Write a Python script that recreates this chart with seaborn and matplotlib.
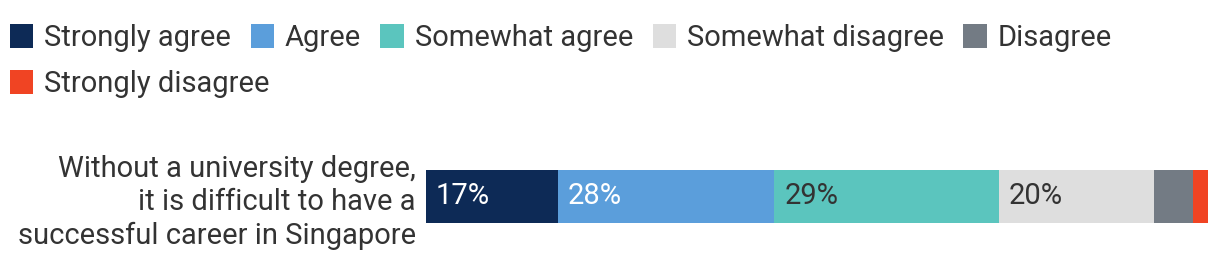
import matplotlib
matplotlib.use("Agg")
import matplotlib.pyplot as plt
import seaborn as sns
import numpy as np
from matplotlib.patches import Patch
from matplotlib.transforms import offset_copy

# ---- data ----
categories = ["Strongly agree", "Agree", "Somewhat agree",
              "Somewhat disagree", "Disagree", "Strongly disagree"]
values = [17, 28, 29, 20, 5, 2]
value_labels = ["17%", "28%", "29%", "20%", "", ""]
colors = ["#0d2a56", "#5b9edb", "#5bc5be", "#dedede", "#737b84", "#f04423"]
label_colors = ["white", "white", "#333333", "#333333", "#333333", "#333333"]
statement = "Without a university degree,\nit is difficult to have a\nsuccessful career in Singapore"

sns.set_theme(style="white")
plt.rcParams["font.family"] = ["Roboto", "DejaVu Sans"]
TXT = "#333333"
FS = 21
LFS = 21

W, H = 1220, 266
fig = plt.figure(figsize=(W / 100, H / 100), dpi=100)
fig.patch.set_facecolor("white")
ax = fig.add_axes([426 / W, (H - 223) / H, (1208 - 426) / W, 53 / H])

cum = np.cumsum(values)
for i in reversed(range(len(values))):
    sns.barplot(x=[cum[i]], y=[statement], color=colors[i], width=1.0,
                orient="h", saturation=1, linewidth=0, ax=ax)
ax.set_xlim(0, cum[-1])
ax.set_ylim(0.5, -0.5)

for s in ax.spines.values():
    s.set_visible(False)
ax.set_xticks([])
ax.set_xlabel("")
ax.set_ylabel("")
ax.set_yticks([0])
ax.set_yticklabels([statement], linespacing=1.25)
ax.tick_params(axis="y", length=0, pad=7.2, labelsize=FS, labelcolor=TXT)

trans = offset_copy(ax.transData, fig=fig, x=10, y=0, units="dots")
starts = cum - np.array(values)
for i, lab in enumerate(value_labels):
    if lab:
        ax.text(starts[i], 0, lab, transform=trans, ha="left", va="center",
                fontsize=FS, color=label_colors[i])

handles = [Patch(facecolor=c, edgecolor="none") for c in colors]
common = dict(frameon=False, fontsize=LFS, handlelength=0.8, handleheight=0.92,
              handletextpad=0.38, columnspacing=0.66, borderpad=0,
              borderaxespad=0, labelcolor=TXT, loc="center left")
leg1 = fig.legend(handles[:5], categories[:5], ncol=5,
                  bbox_to_anchor=(10 / W, 1 - 38 / H), **common)
leg2 = fig.legend(handles[5:], categories[5:], ncol=1,
                  bbox_to_anchor=(10 / W, 1 - 84 / H), **common)

fig.savefig("out.png", dpi=100, facecolor="white")
